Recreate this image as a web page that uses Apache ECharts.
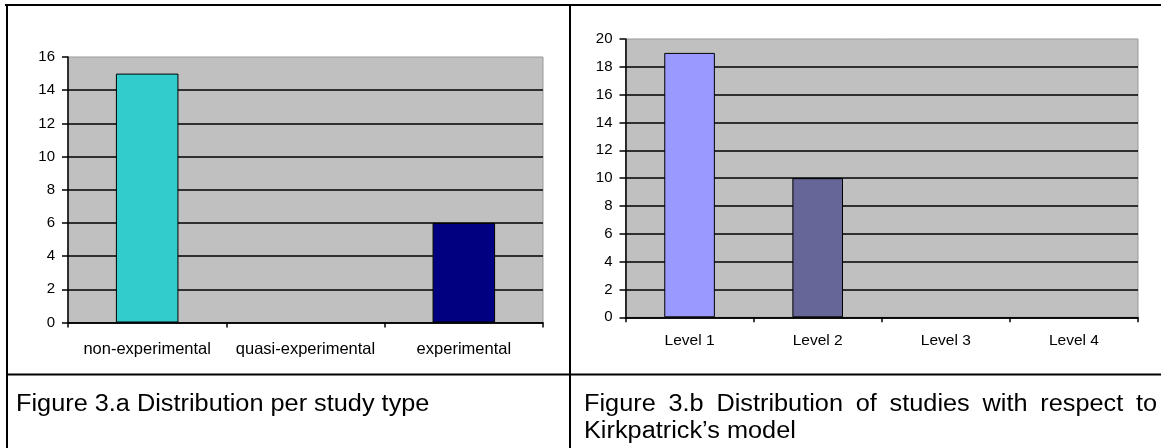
<!DOCTYPE html>
<html>
<head>
<meta charset="utf-8">
<script src="https://cdn.jsdelivr.net/npm/echarts@6/dist/echarts.min.js"></script>
<style>
  html, body { margin: 0; padding: 0; background: #fff; }
  #wrap { position: relative; width: 1161px; height: 448px; overflow: hidden; }
  #chart { position: absolute; left: 0; top: 0; width: 1161px; height: 448px; }
  .cap { position: absolute; font-family: "Liberation Sans", Arial, sans-serif; font-size: 23px; line-height: 27px; color: #000; transform: scaleX(1.1); transform-origin: 0 0; }
  #capA { left: 16px; top: 389.5px; width: 500px; white-space: nowrap; }
  #capB { left: 584px; top: 389.5px; width: 521px; text-align: justify; text-align-last: left; }
</style>
</head>
<body>
<div id="wrap">
  <div id="chart"></div>
  <div class="cap" id="capA">Figure 3.a Distribution per study type</div>
  <div class="cap" id="capB">Figure 3.b Distribution of studies with respect to Kirkpatrick’s model</div>
</div>
<script>
// ---- data ----
const studyTypes = ['non-experimental', 'quasi-experimental', 'experimental'];
const studyCounts = [15, 0, 6];
const levels = ['Level 1', 'Level 2', 'Level 3', 'Level 4'];
const levelCounts = [19, 10, 0, 0];
const axisA = { min: 0, max: 16, interval: 2 };
const axisB = { min: 0, max: 20, interval: 2 };

// ---- styles ----
const colorsA = ['#33CCCC', '#993366', '#000080'];
const colorsB = ['#9999FF', '#666699', '#9999FF', '#666699'];
const FONT = '"Liberation Sans", Arial, sans-serif';

const chart = echarts.init(document.getElementById('chart'), null, { renderer: 'canvas' });

function xAxisCfg(gridIndex, data, fontSize, margin) {
  return {
    type: 'category', gridIndex, data,
    axisLine: { show: true, lineStyle: { color: '#000', width: 1.5 } },
    axisTick: { show: true, length: 5, alignWithLabel: false, interval: 0, lineStyle: { color: '#000', width: 1.5 } },
    axisLabel: { color: '#000', fontSize, margin, interval: 0, fontFamily: FONT },
    splitLine: { show: false }
  };
}
function yAxisCfg(gridIndex, ax) {
  return {
    type: 'value', gridIndex, min: ax.min, max: ax.max, interval: ax.interval,
    axisLine: { show: true, lineStyle: { color: '#000', width: 1.5 } },
    axisTick: { show: true, length: 6, lineStyle: { color: '#000', width: 1.5 } },
    axisLabel: { color: '#000', fontSize: 15, margin: 13, fontFamily: FONT },
    splitLine: { show: true, showMaxLine: false, lineStyle: { color: '#000', width: 1.5 } }
  };
}
function barSeries(idx, values, colors) {
  return {
    type: 'bar', xAxisIndex: idx, yAxisIndex: idx,
    barWidth: '39.5%',
    data: values.map((v, i) => ({
      value: v,
      itemStyle: { color: colors[i], borderColor: '#000', borderWidth: v === 0 ? 0 : 1 }
    })),
    emphasis: { disabled: true },
    animation: false
  };
}

chart.setOption({
  animation: false,
  textStyle: { fontFamily: FONT },
  grid: [
    { left: 68, top: 57, width: 475, height: 265.5, show: true, backgroundColor: '#C0C0C0', borderColor: '#999999', borderWidth: 1 },
    { left: 625.5, top: 39, width: 512.5, height: 278.3, show: true, backgroundColor: '#C0C0C0', borderColor: '#999999', borderWidth: 1 }
  ],
  xAxis: [ xAxisCfg(0, studyTypes, 16.5, 18), xAxisCfg(1, levels, 15.5, 15) ],
  yAxis: [ yAxisCfg(0, axisA), yAxisCfg(1, axisB) ],
  series: [ barSeries(0, studyCounts, colorsA), barSeries(1, levelCounts, colorsB) ],
  graphic: [
    { type: 'line', shape: { x1: 5, y1: 5, x2: 1161, y2: 5 }, style: { stroke: '#000', lineWidth: 2 } },
    { type: 'line', shape: { x1: 7, y1: 4, x2: 7, y2: 448 }, style: { stroke: '#000', lineWidth: 2 } },
    { type: 'line', shape: { x1: 570, y1: 4, x2: 570, y2: 448 }, style: { stroke: '#000', lineWidth: 2 } },
    { type: 'line', shape: { x1: 6, y1: 374.5, x2: 1161, y2: 374.5 }, style: { stroke: '#000', lineWidth: 2 } }
  ]
});
</script>
</body>
</html>
